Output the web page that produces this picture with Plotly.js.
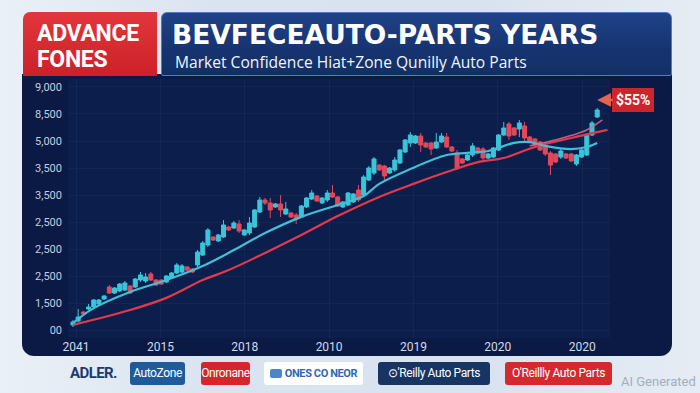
<!DOCTYPE html>
<html>
<head>
<meta charset="utf-8">
<script src="https://cdn.plot.ly/plotly-3.0.1.min.js"></script>
<style>
  html, body { margin:0; padding:0; }
  body { width:700px; height:393px; overflow:hidden; position:relative;
         background: linear-gradient(90deg, #eaf0f7 0%, #dae4f0 30%, #d9e3ef 70%, #e5ecf4 100%);
         font-family: Roboto, "Noto Sans", sans-serif; }
  .abs { position:absolute; }
  #panel { left:22px; top:74px; width:650px; height:282px; background:#0a1a44; border-radius:0 0 12px 12px; }
  #redbox { left:23px; top:12px; width:134px; height:64px; border-radius:7px 0 0 0;
            background: linear-gradient(180deg, #e2363c 0%, #cc2128 100%); }
  #redbox div { position:absolute; left:14px; color:#fff; font-weight:700; font-size:23px; line-height:23px; letter-spacing:-0.3px; }
  #bluebox { left:161px; top:12px; width:509px; height:62px; border-radius:6px 6px 2px 2px;
             background: linear-gradient(180deg, #1f4288 0%, #163370 60%, #123066 100%);
             border:1px solid #4c7cc4; }
  #chart { left:0; top:0; width:700px; height:393px; }
  .badge { position:absolute; top:362px; height:23px; border-radius:3px; color:#fff; font-size:12px;
           line-height:23px; text-align:center; white-space:nowrap; letter-spacing:-0.4px; }
</style>
</head>
<body>
<div id="panel" class="abs"></div>
<div id="redbox" class="abs"><div style="top:10px">ADVANCE</div><div style="top:36px">FONES</div></div>
<div id="bluebox" class="abs"></div>

<div class="abs" style="left:70px;top:364px;font-size:15px;font-weight:700;color:#1d3a70;letter-spacing:-0.6px;">ADLER.</div>
<div class="badge" style="left:130px;width:55px;background:#1f5b9b;">AutoZone</div>
<div class="badge" style="left:201px;width:49px;background:#d6262c;">Onronane</div>
<div class="badge" style="left:264px;width:99px;background:#ffffff;color:#2c69b5;font-weight:700;font-size:11px;">
  <span style="display:inline-block;width:12px;height:9px;background:#4a86c8;border-radius:2px;vertical-align:-1px;margin-right:3px;"></span>ONES CO NEOR</div>
<div class="badge" style="left:378px;width:112px;background:#173462;">⊙'Reilly Auto Parts</div>
<div class="badge" style="left:505px;width:107px;background:#d42a2e;">O'Reillly Auto Parts</div>
<div class="abs" style="left:621px;top:374px;font-size:13px;color:#a3aebd;">AI Generated</div>

<div id="chart" class="abs"></div>

<script>
// ---- data ----
const openVals  = [185,333,667,778,852,963,1148,1593,1370,1444,1481,1630,1593,1852,1815,2074,1852,1852,1778,1926,
  2111,2148,2333,2259,2407,2778,3148,3444,3296,3444,3815,3778,3926,3519,3593,3815,4370,4815,4704,4556,
  4667,4296,4333,4259,4185,4556,4852,4963,4704,4815,5074,4926,4556,4630,4741,5185,5000,5556,5815,6111,
  6074,5815,5926,6185,6593,6926,6926,7185,6926,6926,6741,6963,7148,6778,6556,6333,6296,6482,6741,6704,
  6370,6407,6667,7222,7630,7482,7444,7556,7148,7074,6963,6815,6556,6519,6407,6519,6519,6148,6407,6482,
  7222,7889];
const highVals  = [370,778,704,963,1148,1148,1296,1667,1593,1741,1815,1667,1926,2148,2111,2148,1889,1889,2037,2148,
  2481,2444,2370,2296,2963,3296,3778,3481,3556,4074,3852,4037,4074,3741,4185,4481,4926,4889,4889,4704,
  5000,4741,4370,4333,4630,4926,5185,5000,4926,5185,5370,4963,4778,5111,5074,5370,5741,6074,6407,6148,
  6111,6037,6407,6704,7074,7333,7222,7296,6963,6963,7296,7296,7296,6815,6667,6370,6519,6926,6778,6778,
  6556,6778,7259,7704,7704,7519,7778,7704,7185,7111,7000,6963,6630,6556,6704,6556,6556,6519,6704,7296,
  7741,8222];
const lowVals   = [111,296,556,741,815,926,1111,1333,1333,1407,1444,1333,1556,1778,1741,1815,1630,1667,1741,1889,
  2074,2111,2185,2111,2333,2741,3074,3296,3259,3407,3667,3741,3593,3481,3519,3778,4333,4630,4148,4519,
  4185,4259,4148,3926,4148,4519,4815,4741,4667,4741,4889,4556,4519,4593,4704,4741,4963,5519,5741,5889,
  5482,5778,5852,6148,6556,6778,6889,6593,6741,6482,6704,6926,6741,6593,5926,6148,6259,6407,6519,6222,
  6333,6370,6630,7185,7037,7185,7148,6963,6926,6815,6630,6444,5741,6185,6333,6333,6222,6074,6370,6444,
  7185,7852];
const closeVals = [296,481,593,852,1111,1111,1259,1370,1556,1704,1741,1370,1889,2037,1963,1852,1667,1704,2000,2111,
  2407,2370,2222,2148,2889,3222,3704,3333,3519,3889,3704,3963,3667,3704,3963,4444,4815,4704,4444,4667,
  4444,4481,4185,4111,4593,4889,5074,4778,4889,5074,4926,4593,4741,5074,5037,4815,5667,6000,6333,5926,
  5704,6000,6296,6667,7037,7222,7185,6852,6778,6704,6963,7185,6778,6630,6000,6185,6482,6815,6556,6370,
  6519,6741,7222,7482,7185,7222,7667,7111,6963,6852,6667,6519,6111,6222,6630,6370,6259,6482,6667,7222,
  7667,8148];

// moving averages (sampled along the candle index)
const fastMaIdx = [0,4,11,18,25,31,37,44,51,56,59,65,72,76,80,85,88,91,96,99,101];
const fastMaVal = [260,810,1410,1850,2370,2960,3590,4190,4630,4960,5410,5960,6480,6560,6630,6930,6960,6820,6700,6780,6930];
const slowMaIdx = [0,11,18,25,30,44,51,59,66,72,78,83,89,96,103];
const slowMaVal = [190,740,1190,1850,2220,3520,4220,4930,5440,5850,6220,6370,6780,7110,7410];
const trendIdx  = [88,95,99,102];
const trendVal  = [6820,7150,7410,7780];

const yTickVals  = [0,1000,2000,3000,4000,5000,6000,7000,8000,9000];
const yTickText  = ['00','1,500','2,500','2,500','2,500','3,500','3,500','5,000','8,500','9,000'];
const xTickText  = ['2041','2015','2018','2010','2019','2020','2020'];
const calloutText = '$55%';

// ---- chart ----
const idx = openVals.map((_, i) => i);
const xTickVals = xTickText.map((_, k) => 0.6 + k * 16.25);

const candles = {
  type: 'candlestick', x: idx, open: openVals, high: highVals, low: lowVals, close: closeVals,
  increasing: { line: { color: '#38c6d8', width: 1 }, fillcolor: '#38c6d8' },
  decreasing: { line: { color: '#e2485b', width: 1 }, fillcolor: '#e2485b' },
  whiskerwidth: 0, hoverinfo: 'skip', showlegend: false
};
const slowMa = { type: 'scatter', mode: 'lines', x: slowMaIdx, y: slowMaVal,
  line: { color: '#e33a4b', width: 2.2, shape: 'spline', smoothing: 1 }, hoverinfo: 'skip', showlegend: false };
const fastMa = { type: 'scatter', mode: 'lines', x: fastMaIdx, y: fastMaVal,
  line: { color: '#41bfd8', width: 2.2, shape: 'spline', smoothing: 1 }, hoverinfo: 'skip', showlegend: false };
const trend = { type: 'scatter', mode: 'lines', x: trendIdx, y: trendVal,
  line: { color: '#e06a86', width: 1.6, shape: 'spline' }, opacity: 0.85, hoverinfo: 'skip', showlegend: false };

const last = idx.length - 1;
const layout = {
  width: 700, height: 393,
  margin: { l: 68, r: 90, t: 79, b: 55, pad: 0 },
  paper_bgcolor: 'rgba(0,0,0,0)',
  plot_bgcolor: '#0c1e4c',
  boxgap: 0.12, boxgroupgap: 0.12,
  font: { family: 'Roboto, "Noto Sans", sans-serif', color: '#c9d2e2' },
  title: {
    text: '<b>BEVFECEAUTO-PARTS YEARS</b>',
    font: { family: '"DejaVu Sans", "Open Sans", sans-serif', size: 26.5, color: '#ffffff' },
    xref: 'container', yref: 'container', x: 172 / 700, xanchor: 'left', y: 1 - 35 / 393, yanchor: 'middle'
  },
  xaxis: {
    range: [-0.96, 103.47], tickvals: xTickVals, ticktext: xTickText,
    showgrid: true, gridcolor: 'rgba(120,150,210,0.07)', zeroline: false, showline: false, ticks: '',
    tickfont: { size: 12, color: '#d3dbe8' }, rangeslider: { visible: false }, fixedrange: true
  },
  yaxis: {
    range: [-296, 9296], tickvals: yTickVals, ticktext: yTickText,
    showgrid: true, gridcolor: 'rgba(120,150,210,0.06)', zeroline: false, showline: false, ticks: '',
    ticklabelstandoff: 5, tickfont: { size: 11, color: '#c5cfe0' }, fixedrange: true
  },
  annotations: [
    { xref: 'paper', yref: 'paper', x: (173 - 68) / 542, y: (338 - 62) / 259, xanchor: 'left', yanchor: 'middle',
      text: 'Market Confidence Hiat+Zone Qunilly Auto Parts', showarrow: false,
      font: { family: '"Open Sans", Roboto, sans-serif', size: 15.6, color: '#f2f5fa' } },
    { x: last, y: 8520, xref: 'x', yref: 'y', text: '<b>' + calloutText + '</b>',
      showarrow: true, ax: 36, ay: 0, arrowhead: 2, arrowsize: 1.1, arrowwidth: 2.5, arrowcolor: '#e8624e',
      standoff: 0, bgcolor: '#cc262d', bordercolor: '#cc262d', borderpad: 3,
      font: { size: 14, color: '#ffffff', family: 'Roboto, sans-serif' } }
  ]
};

Plotly.newPlot('chart', [candles, slowMa, fastMa, trend], layout, { staticPlot: true, displayModeBar: false });
</script>
</body>
</html>
